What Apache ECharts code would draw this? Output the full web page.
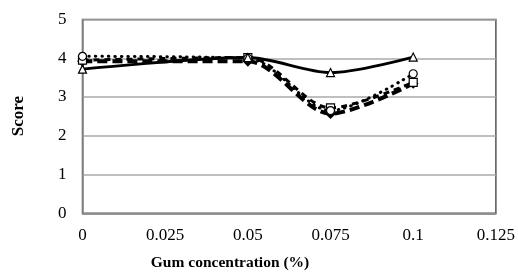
<!DOCTYPE html>
<html>
<head>
<meta charset="utf-8">
<script src="https://cdn.jsdelivr.net/npm/echarts@6/dist/echarts.min.js"></script>
<style>html,body{margin:0;padding:0;background:#fff}#c{width:518px;height:272px}</style>
</head>
<body>
<div id="c"></div>
<script>
var gumConc = [0, 0.05, 0.075, 0.1];
var seriesTriangle = [3.72, 4.02, 3.63, 4.03];
var seriesCircle = [4.05, 4.00, 2.65, 3.60];
var seriesSquare = [3.95, 4.02, 2.72, 3.38];
var seriesDiamond = [3.92, 3.92, 2.57, 3.35];
var xTicks = [0, 0.025, 0.05, 0.075, 0.1, 0.125];
var yTicks = [0, 1, 2, 3, 4, 5];
var xTitle = 'Gum concentration (%)';
var yTitle = 'Score';

function pairs(vals){ return gumConc.map(function(x,i){ return [x, vals[i]]; }); }
var font = '"Liberation Serif", "Times New Roman", serif';

function mk(vals, symbol, lineType, width, fill, size, cap){
  return {
    type:'line', data:pairs(vals), smooth:0.3, symbol:symbol, symbolSize:size,
    lineStyle:{color:'#000', width:width, type:lineType, cap:cap||'butt'},
    itemStyle:{color:fill, borderColor:'#000', borderWidth:1.2},
    z: 3
  };
}

var chart = echarts.init(document.getElementById('c'));
chart.setOption({
  animation:false,
  grid:{left:82.5, right:21, top:19.5, bottom:58.7, show:true, borderColor:'#555', borderWidth:1.5},
  xAxis:{type:'value', min:xTicks[0], max:xTicks[xTicks.length-1], interval:0.025,
    axisLine:{lineStyle:{color:'#888', width:1.5}}, axisTick:{show:false}, splitLine:{show:false},
    axisLabel:{color:'#000', fontFamily:font, fontSize:17, margin:14,
      formatter:function(v){ return String(parseFloat(v.toFixed(3))); }}},
  yAxis:{type:'value', min:yTicks[0], max:yTicks[yTicks.length-1], interval:1,
    axisLine:{show:true, lineStyle:{color:'#888', width:1.5}}, axisTick:{show:false},
    splitLine:{lineStyle:{color:'#aaa', width:1.5}},
    axisLabel:{color:'#000', fontFamily:font, fontSize:17, margin:16}},
  graphic:[
    {type:'text', x:230, y:263, style:{text:xTitle, font:'bold 15.5px '+font, fill:'#000', textAlign:'center', textVerticalAlign:'middle'}},
    {type:'text', x:19, y:116, rotation:Math.PI/2, style:{text:yTitle, font:'bold 17px '+font, fill:'#000', textAlign:'center', textVerticalAlign:'middle'}}
  ],
  series:[
    mk(seriesDiamond, 'diamond', [10,5], 4, '#000', 9),
    mk(seriesSquare, 'rect', [6,5], 3, '#fff', 8),
    mk(seriesCircle, 'circle', [0.5,6], 3, '#fff', 8, 'round'),
    mk(seriesTriangle, 'triangle', 'solid', 2.8, '#fff', 8)
  ]
});
</script>
</body>
</html>
